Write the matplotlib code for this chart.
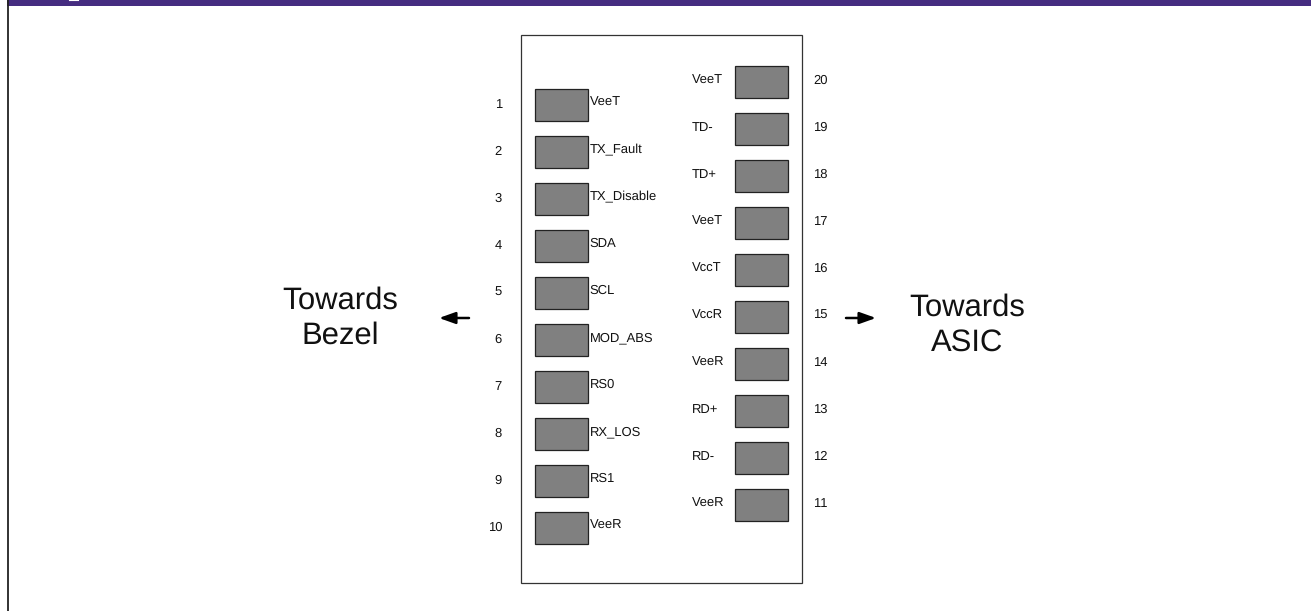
import matplotlib
matplotlib.use("Agg")
import matplotlib.pyplot as plt
from matplotlib.patches import Rectangle

plt.rcParams["font.family"] = ["Liberation Sans", "DejaVu Sans"]
plt.rcParams["text.hinting"] = "no_hinting"
plt.rcParams["text.hinting_factor"] = 1

left_numbers = [1, 2, 3, 4, 5, 6, 7, 8, 9, 10]
left_names = ["VeeT", "TX_Fault", "TX_Disable", "SDA", "SCL", "MOD_ABS", "RS0", "RX_LOS", "RS1", "VeeR"]
right_numbers = [20, 19, 18, 17, 16, 15, 14, 13, 12, 11]
right_names = ["VeeT", "TD-", "TD+", "VeeT", "VccT", "VccR", "VeeR", "RD+", "RD-", "VeeR"]

PAD_W = 52.5
PAD_H = 32
PITCH = 47
LEFT_X = 535
LEFT_Y = 89
RIGHT_X = 735
RIGHT_Y = 65.5
ARROW = dict(arrowstyle="-|>,head_length=0.7,head_width=0.25", color="black", lw=1.8,
             mutation_scale=14, shrinkA=0, shrinkB=0)

fig = plt.figure(figsize=(13.11, 6.11), dpi=100)
ax = fig.add_axes([0, 0, 1, 1])
ax.set_xlim(0, 1311)
ax.set_ylim(611, 0)
ax.axis("off")

# header band, with the sliver of the cut off title that still shows
ax.add_patch(Rectangle((7, 0), 1304, 6, fc="#452c80", ec="none", zorder=3))
ax.plot([69, 78], [0.3, 0.3], color="white", lw=0.8, zorder=4)
ax.plot([7.8, 7.8], [0, 611], color="#222222", lw=1.3, zorder=4)

# connector outline
ax.add_patch(Rectangle((520.5, 34.5), 281.5, 548, fc="white", ec="#333333", lw=0.9))


def draw_pad(x, y):
    ax.add_patch(Rectangle((x, y), PAD_W, PAD_H, fc="#808080", ec="#222222", lw=0.9, zorder=2))


for i, (num, name) in enumerate(zip(left_numbers, left_names)):
    y = LEFT_Y + i * PITCH
    draw_pad(LEFT_X, y)
    ax.text(589.5, y + 17, name, fontsize=9.6, ha="left", va="baseline", color="#111111")
    ax.text(502, y + 19, str(num), fontsize=9, ha="right", va="baseline", color="#111111")

for i, (num, name) in enumerate(zip(right_numbers, right_names)):
    y = RIGHT_Y + i * PITCH
    draw_pad(RIGHT_X, y)
    ax.text(692, y + 18.2, name, fontsize=9.6, ha="left", va="baseline", color="#111111")
    ax.text(813.5, y + 18.5, str(num), fontsize=9, ha="left", va="baseline", color="#111111")

# direction labels
ax.text(340, 318, "Towards\nBezel", fontsize=22, ha="center", va="center", linespacing=1.28, color="#111111")
ax.text(967.5, 325, "Towards\nASIC", fontsize=22, ha="center", va="center", linespacing=1.28, color="#111111")
ax.annotate("", xy=(439, 318), xytext=(469, 318), arrowprops=ARROW)
ax.annotate("", xy=(876, 318), xytext=(846, 318), arrowprops=ARROW)

fig.savefig("out.png", dpi=100, facecolor="white")
plt.close(fig)
